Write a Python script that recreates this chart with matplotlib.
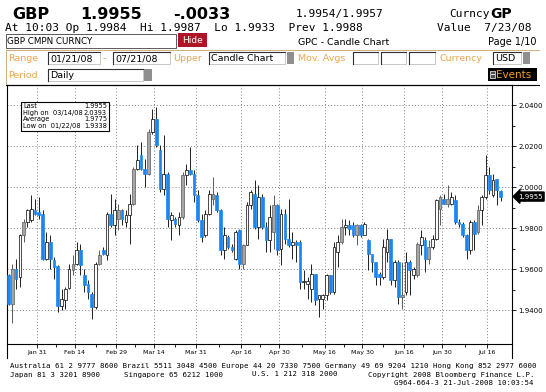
import matplotlib
matplotlib.use("Agg")
import matplotlib.pyplot as plt
import matplotlib.transforms as mtransforms
from matplotlib.patches import Rectangle
import numpy as np
import pandas as pd

W, H = 546, 392

# GBP daily candles, one per weekday from 01/21/08 to 07/21/08
opens = [1.9571, 1.9433, 1.9603, 1.9563, 1.9766, 1.9831, 1.9839, 1.9888, 1.9880, 1.9872,
         1.9652, 1.9733, 1.9644, 1.9616, 1.9421, 1.9449, 1.9509, 1.9595, 1.9628, 1.9693,
         1.9571, 1.9530, 1.9481, 1.9416, 1.9628, 1.9696, 1.9668, 1.9872, 1.9815, 1.9844,
         1.9888, 1.9831, 1.9863, 1.9920, 2.0091, 2.0156, 2.0091, 2.0063, 2.0270, 2.0335,
         2.0180, 1.9993, 2.0063, 1.9839, 1.9844, 1.9815, 1.9855, 2.0059, 2.0083, 2.0067,
         1.9961, 1.9839, 1.9766, 1.9872, 1.9945, 1.9961, 1.9888, 1.9693, 1.9758, 1.9709,
         1.9652, 1.9790, 1.9628, 1.9717, 1.9912, 1.9969, 1.9807, 1.9953, 1.9807, 1.9741,
         1.9782, 1.9912, 1.9701, 1.9872, 1.9750, 1.9717, 1.9733, 1.9733, 1.9538, 1.9530,
         1.9506, 1.9579, 1.9457, 1.9457, 1.9473, 1.9571, 1.9489, 1.9685, 1.9733, 1.9806,
         1.9815, 1.9815, 1.9766, 1.9815, 1.9766, 1.9741, 1.9676, 1.9636, 1.9579, 1.9563,
         1.9685, 1.9750, 1.9546, 1.9636, 1.9465, 1.9489, 1.9636, 1.9571, 1.9571, 1.9717,
         1.9741, 1.9652, 1.9709, 1.9750, 1.9896, 1.9945, 1.9920, 1.9920, 1.9937, 1.9831,
         1.9823, 1.9766, 1.9693, 1.9831, 1.9782, 1.9888, 1.9953, 2.0059, 1.9961, 2.0042,
         1.9984]
highs = [1.9579, 1.9628, 1.9652, 1.9774, 1.9847, 1.9896, 1.9961, 1.9945, 1.9953, 1.9888,
         1.9782, 1.9766, 1.9660, 1.9620, 1.9506, 1.9514, 1.9628, 1.9668, 1.9733, 1.9725,
         1.9603, 1.9546, 1.9489, 1.9636, 1.9693, 1.9709, 1.9880, 1.9969, 1.9945, 1.9920,
         1.9896, 1.9888, 1.9969, 2.0099, 2.0205, 2.0221, 2.0140, 2.0286, 2.0384, 2.0393,
         2.0205, 2.0254, 2.0075, 1.9880, 1.9855, 1.9880, 2.0075, 2.0115, 2.0197, 2.0083,
         1.9985, 1.9872, 1.9888, 1.9985, 2.0050, 1.9977, 1.9896, 1.9807, 1.9766, 1.9725,
         1.9790, 1.9798, 1.9725, 1.9928, 1.9985, 2.0034, 2.0010, 1.9969, 1.9831, 1.9912,
         1.9961, 1.9920, 1.9896, 1.9896, 1.9945, 1.9782, 1.9741, 1.9741, 1.9595, 1.9563,
         1.9628, 1.9579, 1.9473, 1.9481, 1.9579, 1.9571, 1.9733, 1.9766, 1.9847, 1.9847,
         1.9839, 1.9831, 1.9823, 1.9823, 1.9831, 1.9750, 1.9676, 1.9636, 1.9587, 1.9750,
         1.9798, 1.9750, 1.9644, 1.9644, 1.9636, 1.9685, 1.9644, 1.9611, 1.9733, 1.9790,
         1.9758, 1.9741, 1.9766, 1.9945, 1.9961, 1.9969, 2.0010, 1.9977, 1.9961, 1.9847,
         1.9831, 1.9774, 1.9839, 1.9839, 1.9912, 1.9961, 2.0156, 2.0099, 2.0067, 2.0042,
         1.9987]
lows = [1.9424, 1.9338, 1.9506, 1.9514, 1.9733, 1.9807, 1.9831, 1.9863, 1.9847, 1.9644,
        1.9644, 1.9603, 1.9554, 1.9392, 1.9400, 1.9408, 1.9506, 1.9571, 1.9620, 1.9571,
        1.9489, 1.9457, 1.9359, 1.9408, 1.9620, 1.9671, 1.9644, 1.9807, 1.9766, 1.9790,
        1.9815, 1.9807, 1.9725, 1.9912, 2.0083, 2.0083, 2.0002, 2.0059, 2.0262, 2.0197,
        1.9977, 1.9961, 1.9807, 1.9741, 1.9807, 1.9766, 1.9847, 2.0010, 2.0059, 1.9928,
        1.9831, 1.9733, 1.9758, 1.9863, 1.9912, 1.9880, 1.9668, 1.9652, 1.9701, 1.9685,
        1.9644, 1.9603, 1.9603, 1.9717, 1.9896, 1.9798, 1.9750, 1.9798, 1.9685, 1.9685,
        1.9701, 1.9668, 1.9620, 1.9725, 1.9709, 1.9652, 1.9636, 1.9506, 1.9506, 1.9457,
        1.9441, 1.9424, 1.9367, 1.9408, 1.9449, 1.9481, 1.9481, 1.9611, 1.9725, 1.9766,
        1.9766, 1.9758, 1.9717, 1.9758, 1.9766, 1.9595, 1.9587, 1.9522, 1.9522, 1.9554,
        1.9636, 1.9522, 1.9514, 1.9433, 1.9408, 1.9473, 1.9473, 1.9554, 1.9563, 1.9668,
        1.9587, 1.9628, 1.9701, 1.9741, 1.9815, 1.9920, 1.9904, 1.9912, 1.9823, 1.9807,
        1.9758, 1.9652, 1.9676, 1.9693, 1.9774, 1.9815, 1.9945, 1.9969, 1.9953, 1.9912,
        1.9933]
closes = [1.9433, 1.9603, 1.9554, 1.9766, 1.9831, 1.9888, 1.9896, 1.9872, 1.9863, 1.9652,
          1.9733, 1.9652, 1.9611, 1.9421, 1.9457, 1.9506, 1.9603, 1.9628, 1.9693, 1.9620,
          1.9522, 1.9489, 1.9416, 1.9628, 1.9668, 1.9676, 1.9872, 1.9815, 1.9888, 1.9888,
          1.9847, 1.9863, 1.9920, 2.0091, 2.0132, 2.0091, 2.0063, 2.0270, 2.0335, 2.0205,
          1.9993, 2.0067, 1.9847, 1.9863, 1.9823, 1.9855, 2.0059, 2.0083, 2.0067, 1.9961,
          1.9839, 1.9758, 1.9872, 1.9969, 1.9969, 1.9888, 1.9693, 1.9766, 1.9709, 1.9693,
          1.9782, 1.9628, 1.9717, 1.9912, 1.9977, 1.9807, 1.9953, 1.9807, 1.9741, 1.9855,
          1.9912, 1.9693, 1.9872, 1.9750, 1.9717, 1.9733, 1.9717, 1.9538, 1.9541, 1.9541,
          1.9579, 1.9449, 1.9473, 1.9473, 1.9571, 1.9489, 1.9709, 1.9733, 1.9807, 1.9815,
          1.9798, 1.9766, 1.9815, 1.9766, 1.9823, 1.9676, 1.9636, 1.9563, 1.9563, 1.9709,
          1.9750, 1.9546, 1.9636, 1.9465, 1.9476, 1.9636, 1.9595, 1.9603, 1.9725, 1.9758,
          1.9652, 1.9709, 1.9750, 1.9937, 1.9953, 1.9920, 1.9945, 1.9953, 1.9831, 1.9823,
          1.9766, 1.9693, 1.9831, 1.9774, 1.9888, 1.9953, 2.0059, 1.9985, 2.0034, 1.9985,
          1.9955]
# candle body type as shown: b = blue (down), w = hollow, g = grey
kinds = list("bgbwgwwbbb" "wbbbwwwgwb" "bbbwgbwbwg" "bwwgwbbgwb" "bwbwbwgwbb"
             "bbwwgbbwbb" "wbgwwbwbbw" "gbwbbwbbww" "wbwwwbwwgw" "bbgbwbbbbw"
             "wbwbgwbwgw" "bgwwgbgwbb" "bbwbgwwbwb" "b")

average_close = 1.9775
tick_dates = ["2008-01-31", "2008-02-14", "2008-02-29", "2008-03-14", "2008-03-31",
              "2008-04-16", "2008-04-30", "2008-05-16", "2008-05-30", "2008-06-16",
              "2008-06-30", "2008-07-16"]
tick_labels = ["Jan 31", "Feb 14", "Feb 29", "Mar 14", "Mar 31", "Apr 16",
               "Apr 30", "May 16", "May 30", "Jun 16", "Jun 30", "Jul 16"]
price_ticks = [1.94, 1.96, 1.98, 2.00, 2.02, 2.04]

dates = pd.bdate_range("2008-01-21", "2008-07-21")
idx = np.arange(len(closes))
o, h, l, c = map(np.array, (opens, highs, lows, closes))

ORANGE = "#E9A552"
BLUE = "#1C86EE"

fig = plt.figure(figsize=(W / 100, H / 100), dpi=100)
fig.patch.set_facecolor("white")

# background layer in pixel coordinates for the terminal header
bg = fig.add_axes([0, 0, 1, 1], zorder=0)
bg.set_xlim(0, W)
bg.set_ylim(H, 0)
bg.axis("off")

MONO = "DejaVu Sans Mono"
SANS = "DejaVu Sans"

def txt(x, y, s, size=6.8, color="black", family=SANS, **kw):
    bg.text(x, y, s, fontsize=size, color=color, family=family, va="center", **kw)

def field(x0, y0, x1, y1, s=None):
    bg.add_patch(Rectangle((x0, y0), x1 - x0, y1 - y0, fc="white", ec="#b0b0b0", lw=0.5))
    bg.plot([x0, x0, x1], [y1, y0, y0], color="#303030", lw=0.8)
    if s:
        txt(x0 + 2, (y0 + y1) / 2 + 0.5, s)

def knob(x0, y0, x1, y1):
    bg.add_patch(Rectangle((x0, y0), x1 - x0, y1 - y0, fc="#8f8f8f", ec="none"))

# line 1 and 2
for x, s in [(12, "GBP"), (80, "1.9955"), (173, "-.0033")]:
    txt(x, 14, s, size=11.5, family=SANS, fontweight="bold")
txt(296, 14, "1.9954/1.9957", size=8, family=MONO)
txt(449, 14, "Curncy", size=8, family=MONO)
txt(490, 14, "GP", size=10, family=SANS, fontweight="bold")
txt(5, 27.5, "At 10:03 Op 1.9984  Hi 1.9987  Lo 1.9933  Prev 1.9988", size=8, family=MONO)
txt(437, 27.5, "Value  7/23/08", size=8, family=MONO)

# line 3
bg.add_patch(Rectangle((6, 34), 170, 14, fc="white", ec="#404040", lw=0.6))
txt(7, 41.5, "GBP CMPN CURNCY", size=6.3)
bg.add_patch(Rectangle((178, 33), 29, 14, fc="#AE1628", ec="none"))
txt(192.5, 40, "Hide", size=6.5, color="white", ha="center")
txt(298, 42, "GPC - Candle Chart", size=6.8)
txt(488, 42, "Page 1/10", size=7)

# option rows
bg.plot([6, 539], [49.5, 49.5], color="#cfae80", lw=0.7)
bg.plot([6, 6], [49.5, 85], color="#cfae80", lw=0.7)
txt(8, 58.5, "Range", color=ORANGE)
field(48, 52, 100, 64, "01/21/08")
txt(103, 58.5, "-", color=ORANGE)
field(113, 52, 170, 64, "07/21/08")
txt(173, 58.5, "Upper", color=ORANGE)
field(209, 52, 285, 64, "Candle Chart")
knob(287, 52, 294, 64)
txt(298, 58.5, "Mov. Avgs", color=ORANGE)
field(353, 52, 378, 64)
field(381, 52, 406, 64)
field(409, 52, 435, 64)
txt(440, 58.5, "Currency", color=ORANGE)
field(493, 52, 521, 64, "USD")
knob(523, 52, 530, 64)

txt(8, 75, "Period", color=ORANGE)
field(48, 69, 143, 81, "Daily")
knob(144, 69, 152, 81)
bg.add_patch(Rectangle((488, 68), 49, 12.5, fc="black", ec="none"))
bg.add_patch(Rectangle((490, 70.5), 5, 7, fc="#505050", ec="white", lw=0.5))
bg.plot([491, 494], [74, 74], color="white", lw=0.6)
txt(496, 74.5, "Events", size=7.5, color="#F0A020")

# footer
FOOT = 5.3
txt(10, 366, "Australia 61 2 9777 8600 Brazil 5511 3048 4500 Europe 44 20 7330 7500 "
    "Germany 49 69 9204 1210 Hong Kong 852 2977 6000", size=FOOT, family=MONO)
txt(10, 374.5, "Japan 81 3 3201 8900", size=FOOT, family=MONO)
txt(124, 374.5, "Singapore 65 6212 1000", size=FOOT, family=MONO)
txt(252, 374.5, "U.S. 1 212 318 2000", size=FOOT, family=MONO)
txt(534, 374.5, "Copyright 2008 Bloomberg Finance L.P.", size=FOOT, family=MONO, ha="right")
txt(534, 383, "G964-664-3 21-Jul-2008 10:03:54", size=FOOT, family=MONO, ha="right")

# candle chart
px_left, px_right, px_top, px_bottom = 7, 512, 85, 344
ax = fig.add_axes([px_left / W, 1 - px_bottom / H, (px_right - px_left) / W,
                   (px_bottom - px_top) / H], zorder=1)
ax.set_facecolor("white")

body_fc = {"b": BLUE, "w": "white", "g": "#a6a6a6"}
body_ec = {"b": BLUE, "w": "black", "g": "#5a5a5a"}
wick_c = {"b": "#202020", "w": "#202020", "g": "#5a5a5a"}
kinds_arr = np.array(kinds)
for k in "wgb":
    m = kinds_arr == k
    ax.vlines(idx[m], l[m], h[m], color=wick_c[k], lw=0.7, zorder=3)
    bottom = np.minimum(o[m], c[m])
    height = np.maximum(np.abs(c[m] - o[m]), 0.0003)
    ax.bar(idx[m], height, bottom=bottom, width=0.72, color=body_fc[k],
           edgecolor=body_ec[k], linewidth=0.5, zorder=4)

ax.set_xlim(-0.4, 133.0)
ax.set_ylim(1.9236, 2.0499)

tick_pos = np.array([dates.get_loc(pd.Timestamp(d)) for d in tick_dates]) - 0.5
ax.set_xticks(tick_pos)
ax.set_xticklabels(tick_labels)
ax.set_xticks((tick_pos[:-1] + tick_pos[1:]) / 2, minor=True)
ax.set_yticks(price_ticks)
ax.set_yticklabels([f"{p:.4f}" for p in price_ticks])
ax.set_yticks(np.array(price_ticks[:-1]) + 0.01, minor=True)
ax.yaxis.tick_right()
ax.tick_params(axis="x", which="major", length=3, width=0.6, labelsize=4.5, pad=1.5)
ax.tick_params(axis="x", which="minor", length=2, width=0.6)
ax.tick_params(axis="y", which="major", length=3, width=0.6, labelsize=5, pad=1.5)
ax.tick_params(axis="y", which="minor", length=2, width=0.6)
ax.grid(which="major", color="#808080", lw=0.7, ls=(0, (1, 2.2)))
for sp in ax.spines.values():
    sp.set_linewidth(0.8)
    sp.set_color("black")

# last price tag on the right scale
tr = mtransforms.blended_transform_factory(ax.transAxes, ax.transData)
ax.text(1.012, c[-1], f"{c[-1]:.4f}", transform=tr, fontsize=5, color="white",
        va="center", ha="left", clip_on=False, zorder=6,
        bbox=dict(boxstyle="larrow,pad=0.22", fc="black", ec="black"))

# overlay: frame extensions and stats box
ov = fig.add_axes([0, 0, 1, 1], zorder=2)
ov.set_xlim(0, W)
ov.set_ylim(H, 0)
ov.axis("off")
ov.plot([6, 539], [85, 85], color="black", lw=0.8)
ov.plot([px_left, px_left], [px_bottom, 358], color="black", lw=0.8)
ov.plot([px_right, px_right], [px_bottom, 358], color="black", lw=0.8)

hi_i = int(np.argmax(h))
lo_i = int(np.argmin(l))
stats = [("Last", c[-1]),
         (f"High on  {dates[hi_i]:%m/%d/%y}", h[hi_i]),
         ("Average", average_close),
         (f"Low on  {dates[lo_i]:%m/%d/%y}", l[lo_i])]
ov.add_patch(Rectangle((21, 102), 88, 28.5, fc="white", ec="black", lw=0.8))
for j, (name, val) in enumerate(stats):
    y = 106 + j * 6.6
    ov.text(23, y, name, fontsize=4.8, family=SANS, va="center")
    ov.text(107, y, f"{val:.4f}", fontsize=4.8, family=SANS, va="center", ha="right")

fig.savefig("out.png", dpi=100)
